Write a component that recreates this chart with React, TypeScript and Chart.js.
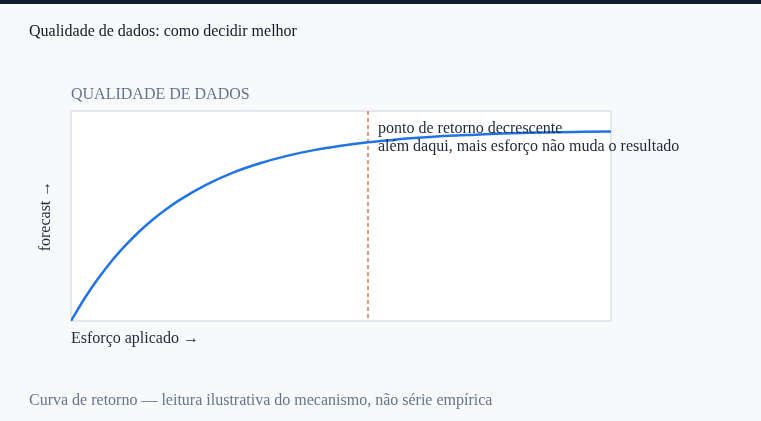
import React, { useEffect, useRef } from "react";
import { Chart, registerables } from "chart.js";

Chart.register(...registerables);

const effortValues: number[] = [0, 0.25, 0.5, 0.75, 1, 1.25, 1.5, 1.75, 2, 2.5, 3, 3.5, 4, 4.5, 5, 5.5, 6, 6.5, 7, 7.5, 8, 8.5, 9, 9.5, 10];
const forecastValues: number[] = [0, 0.118, 0.221, 0.313, 0.393, 0.465, 0.528, 0.583, 0.632, 0.713, 0.777, 0.826, 0.865, 0.895, 0.918, 0.936, 0.95, 0.961, 0.97, 0.976, 0.982, 0.986, 0.989, 0.991, 0.993];
const thresholdEffort = 5.5;
const annotationLines: string[] = ["ponto de retorno decrescente", "além daqui, mais esforço não muda o resultado"];
const chartTitle = "Qualidade de dados: como decidir melhor";
const panelLabel = "QUALIDADE DE DADOS";
const xAxisLabel = "Esforço aplicado →";
const yAxisLabel = "forecast →";
const caption = "Curva de retorno — leitura ilustrativa do mecanismo, não série empírica";

const FONT = '"Liberation Serif", "DejaVu Serif", serif';

const decorPlugin = {
  id: "decor",
  beforeDatasetsDraw(chart: any) {
    const { ctx, chartArea } = chart;
    const { left, top, right, bottom } = chartArea;
    ctx.save();
    ctx.fillStyle = "#ffffff";
    ctx.fillRect(left, top, right - left, bottom - top);
    ctx.strokeStyle = "#e4e8ee";
    ctx.lineWidth = 2;
    ctx.strokeRect(left, top, right - left, bottom - top);
    const x = chart.scales.x.getPixelForValue(thresholdEffort);
    ctx.strokeStyle = "#e0977c";
    ctx.lineWidth = 2;
    ctx.setLineDash([4, 3]);
    ctx.beginPath();
    ctx.moveTo(x, top);
    ctx.lineTo(x, bottom);
    ctx.stroke();
    ctx.restore();
  },
  afterDatasetsDraw(chart: any) {
    const { ctx, chartArea } = chart;
    const { left, top, bottom } = chartArea;
    ctx.save();
    const x = chart.scales.x.getPixelForValue(thresholdEffort);
    ctx.font = `16px ${FONT}`;
    ctx.fillStyle = "#1f2937";
    ctx.textBaseline = "alphabetic";
    ctx.textAlign = "left";
    annotationLines.forEach((t, i) => ctx.fillText(t, x + 10, top + 22 + i * 18));
    ctx.fillStyle = "#64748b";
    ctx.fillText(panelLabel, left, top - 12);
    ctx.fillStyle = "#1f2937";
    ctx.fillText(xAxisLabel, left, bottom + 22);
    ctx.translate(left - 21, (top + bottom) / 2);
    ctx.rotate(-Math.PI / 2);
    ctx.textAlign = "center";
    ctx.fillText(yAxisLabel, 0, 0);
    ctx.restore();
  },
};

export default function App() {
  const ref = useRef<HTMLCanvasElement | null>(null);

  useEffect(() => {
    document.body.style.margin = "0";
    const canvas = ref.current;
    if (!canvas) return;
    const chart = new Chart(canvas, {
      type: "line",
      data: {
        datasets: [
          {
            data: effortValues.map((x, i) => ({ x, y: forecastValues[i] })),
            borderColor: "#2273e6",
            borderWidth: 2.5,
            pointRadius: 0,
            cubicInterpolationMode: "monotone",
            fill: false,
          },
        ],
      },
      options: {
        animation: false,
        responsive: false,
        devicePixelRatio: 1,
        layout: { padding: { left: 71, right: 150, top: 107, bottom: 100 } },
        plugins: { legend: { display: false }, tooltip: { enabled: false }, title: { display: false } },
        scales: {
          x: { type: "linear", min: 0, max: 10, display: false },
          y: { type: "linear", min: 0, max: 1.1, display: false },
        },
      },
      plugins: [decorPlugin],
    } as any);
    return () => chart.destroy();
  }, []);

  return (
    <div
      style={{
        position: "relative",
        width: 761,
        height: 421,
        boxSizing: "border-box",
        background: "#f8f9fb",
        borderTop: "4px solid #0f1b2d",
        overflow: "hidden",
        fontFamily: FONT,
      }}
    >
      <canvas ref={ref} width={761} height={417} style={{ position: "absolute", left: 0, top: 0, display: "block" }} />
      <div style={{ position: "absolute", left: 29, top: 18, fontSize: 16, color: "#111827", whiteSpace: "nowrap" }}>{chartTitle}</div>
      <div style={{ position: "absolute", left: 29, top: 387, fontSize: 16, color: "#64748b", whiteSpace: "nowrap" }}>{caption}</div>
    </div>
  );
}
